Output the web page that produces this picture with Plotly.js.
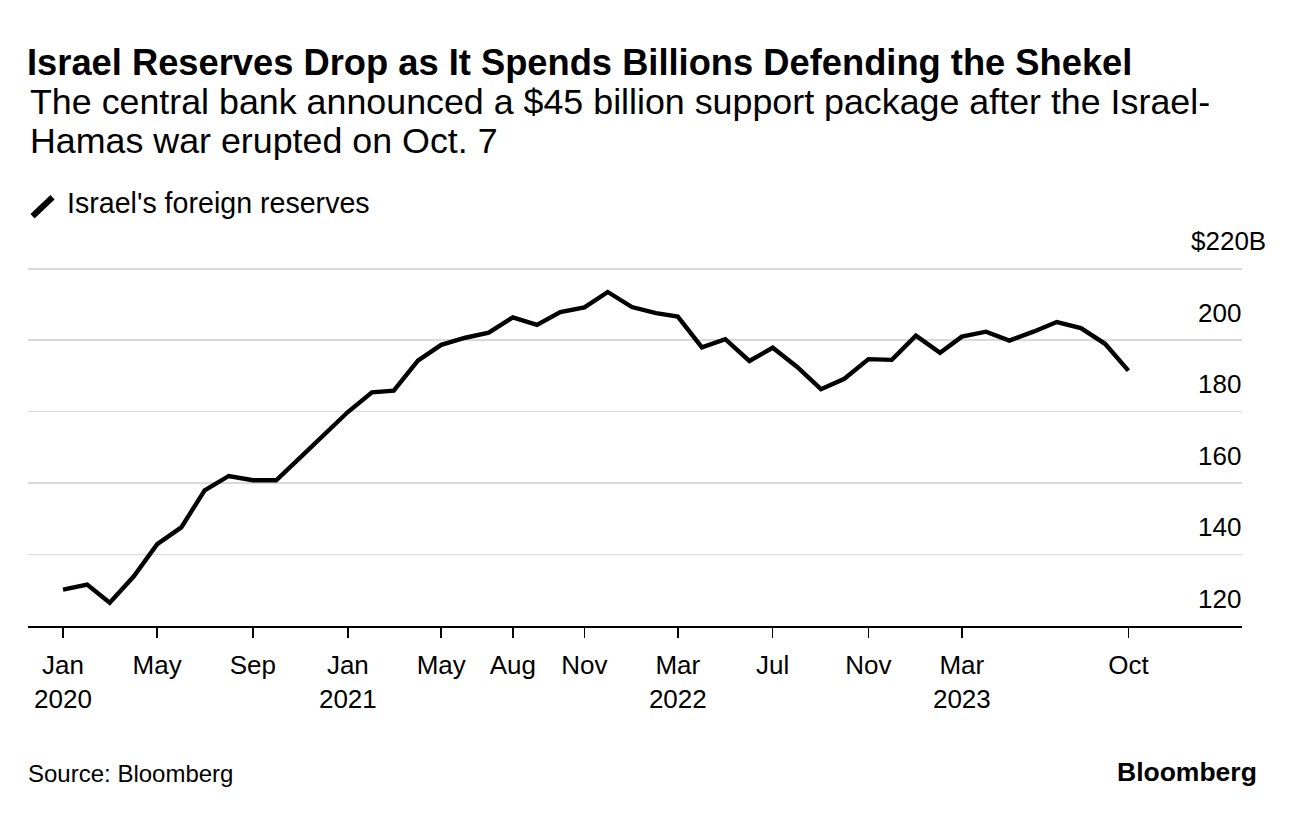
<!DOCTYPE html>
<html>
<head>
<meta charset="utf-8">
<script src="https://cdn.plot.ly/plotly-3.0.1.min.js"></script>
<style>html,body{margin:0;padding:0;background:#fff;}#chart{width:1296px;height:816px;}</style>
</head>
<body>
<div id="chart"></div>
<script>
// Monthly dates Jan 2020 .. Oct 2023
const months = [
  "2020-01-01","2020-02-01","2020-03-01","2020-04-01","2020-05-01","2020-06-01","2020-07-01","2020-08-01","2020-09-01","2020-10-01","2020-11-01","2020-12-01",
  "2021-01-01","2021-02-01","2021-03-01","2021-04-01","2021-05-01","2021-06-01","2021-07-01","2021-08-01","2021-09-01","2021-10-01","2021-11-01","2021-12-01",
  "2022-01-01","2022-02-01","2022-03-01","2022-04-01","2022-05-01","2022-06-01","2022-07-01","2022-08-01","2022-09-01","2022-10-01","2022-11-01","2022-12-01",
  "2023-01-01","2023-02-01","2023-03-01","2023-04-01","2023-05-01","2023-06-01","2023-07-01","2023-08-01","2023-09-01","2023-10-01"
];
// Israel's foreign reserves, $ billions
const reserves = [
  130.2,131.6,126.5,133.9,142.9,147.6,158.0,162.0,160.8,160.8,167.2,173.5,
  179.9,185.4,185.9,194.3,198.7,200.7,202.1,206.4,204.3,207.9,209.2,213.5,
  209.3,207.6,206.6,198.0,200.3,194.2,197.9,192.6,186.3,189.2,194.7,194.5,
  201.3,196.5,201.0,202.4,199.9,202.4,205.1,203.4,199.0,191.5
];
const xTickVals = ["2020-01-01","2020-05-01","2020-09-01","2021-01-01","2021-05-01","2021-08-01","2021-11-01","2022-03-01","2022-07-01","2022-11-01","2023-03-01","2023-10-01"];
const xTickText = ["Jan<br>2020","May","Sep","Jan<br>2021","May","Aug","Nov","Mar<br>2022","Jul","Nov","Mar<br>2023","Oct"];
const yTickVals = [120,140,160,180,200,220];
const yTickText = ["120","140","160","180","200","$220B"];
const seriesName = "Israel's foreign reserves";

const FONT = "Liberation Sans, Arial, Helvetica, sans-serif";
const W = 1296, H = 816;
const L = 28, R = 1242, B = 625.7;
const Y0 = 120, Y1 = 220.5;             // y range
const UNIT = 3.567;                      // px per $1B
const T = B - (Y1 - Y0) * UNIT;          // plot top in px
const px = p => (p - L) / (R - L);
const py = p => (B - p) / (B - T);

const trace = {
  x: months, y: reserves, type: "scatter", mode: "lines", name: seriesName,
  line: {color: "#000", width: 4.4, shape: "linear"}, hoverinfo: "x+y", showlegend: false
};

const yLabelAnnotations = yTickVals.map((v, i) => ({
  text: yTickText[i], xref: "paper", yref: "y", x: 1, y: v,
  xanchor: "right", yanchor: "middle",
  xshift: yTickText[i].endsWith("B") ? 26 : 1, yshift: 27.5,
  showarrow: false, font: {family: FONT, size: 26, color: "#000"}
}));

const layout = {
  width: W, height: H,
  paper_bgcolor: "#fff", plot_bgcolor: "#fff",
  margin: {l: L, r: W - R, t: T, b: H - B, pad: 0},
  font: {family: FONT, color: "#000", size: 26},
  title: {
    text: "Israel Reserves Drop as It Spends Billions Defending the Shekel",
    font: {family: FONT, size: 36.3, weight: 700, color: "#000"},
    xref: "container", yref: "container", x: 27 / W, xanchor: "left",
    y: 1 - 62 / H, yanchor: "middle"
  },
  xaxis: {
    type: "date", range: ["2019-11-17", "2024-02-24"],
    tickmode: "array", tickvals: xTickVals, ticktext: xTickText,
    ticks: "outside", ticklen: 10, tickwidth: 1.5, tickcolor: "#000",
    ticklabelstandoff: 5,
    showline: true, linecolor: "#000", linewidth: 1.6,
    showgrid: false, zeroline: false,
    tickfont: {family: FONT, size: 26, color: "#000"},
    fixedrange: true
  },
  yaxis: {
    range: [Y0, Y1], side: "right",
    tickmode: "array", tickvals: yTickVals, showticklabels: false,
    ticks: "", showline: false, zeroline: false,
    showgrid: true, gridcolor: "#d9d9d9", gridwidth: 1.6,
    fixedrange: true
  },
  shapes: [
    {type: "line", xref: "paper", yref: "paper",
     xsizemode: "pixel", ysizemode: "pixel", xanchor: px(32.5), yanchor: py(216.5),
     x0: 0, x1: 20, y0: 0, y1: 19,
     line: {color: "#000", width: 6}}
  ],
  annotations: [
    {text: "The central bank announced a $45 billion support package after the Israel-",
     xref: "paper", yref: "paper", x: px(L), y: py(102.5), xanchor: "left", yanchor: "middle",
     showarrow: false, font: {family: FONT, size: 35.8, color: "#000"}},
    {text: "Hamas war erupted on Oct. 7",
     xref: "paper", yref: "paper", x: px(L), y: py(141), xanchor: "left", yanchor: "middle",
     showarrow: false, font: {family: FONT, size: 35.8, color: "#000"}},
    {text: seriesName,
     xref: "paper", yref: "paper", x: px(65), y: py(203), xanchor: "left", yanchor: "middle",
     showarrow: false, font: {family: FONT, size: 28.6, color: "#000"}},
    {text: "Source: Bloomberg",
     xref: "paper", yref: "paper", x: px(L - 2), y: py(773), xanchor: "left", yanchor: "middle",
     showarrow: false, font: {family: FONT, size: 24, color: "#000"}},
    {text: "Bloomberg",
     xref: "paper", yref: "paper", x: px(1259), y: py(771), xanchor: "right", yanchor: "middle",
     showarrow: false, font: {family: FONT, size: 26.5, weight: 700, color: "#000"}}
  ].concat(yLabelAnnotations)
};

Plotly.newPlot("chart", [trace], layout, {displayModeBar: false, staticPlot: true});
</script>
</body>
</html>
